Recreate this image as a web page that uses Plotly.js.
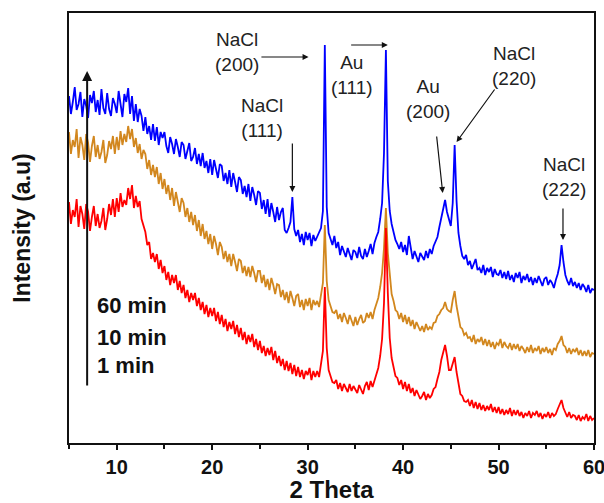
<!DOCTYPE html>
<html>
<head>
<meta charset="utf-8">
<script src="https://cdn.plot.ly/plotly-3.0.1.min.js"></script>
<style>html,body{margin:0;padding:0;background:#fff;}#chart{width:604px;height:503px;}</style>
</head>
<body>
<div id="chart"></div>
<script>
// 2-theta sampling: start 5, step 0.2 (up to 60)
const thetaStart = 5;
const thetaStep = 0.2;

// 60 min (blue), intensity in arbitrary units
const blue60 = [
347,329,341,356,333, 339,351,326,344,337, 325,348,340,352,331, 343,328,354,335,329,
350,334,327,345,339, 330,352,338,326,349, 341,355,329,347,322, 339,321,334,327,312,
326,309,317,303,319, 302,316,298,311,305, 311,297,290,306,299, 289,304,296,286,301,
298,284,293,300,282, 286,295,279,289,277, 290,275,282,270,284, 268,283,274,265,279,
277,262,270,259,273, 256,270,261,251,266, 263,249,257,246,259, 242,256,248,238,252,
250,234,243,229,244, 226,240,231,221,236, 223,231,235,213,210, 215,221,246,214,207,
213,201,209,198,211, 203,210,197,208,202, 206,210,215,232,398, 236,210,204,198,207,
195,201,188,197,192, 186,195,190,183,193, 191,185,196,187,184, 194,186,192,199,189,
200,206,211,224,240, 290,393,262,232,219, 212,203,199,194,201, 191,198,188,207,193,
184,192,186,181,190, 187,183,192,185,194, 189,197,201,206,216, 226,235,243,231,223,
217,240,298,242,210, 197,187,184,188,178, 182,174,179,184,173, 175,170,178,168,175,
171,176,166,174,169, 168,173,165,171,164, 172,163,168,161,170, 165,171,160,167,163,
169,161,166,158,165, 160,167,162,157,164, 166,158,163,160,155, 163,169,178,198,181,
168,162,158,165,157, 161,155,160,153,159, 156,151,158,150,154, 153
];

// 10 min (orange)
const orange10 = [
311,289,303,296,314, 285,306,298,283,309, 300,281,297,307,286, 298,284,291,303,280,
288,302,294,307,289, 306,293,312,298,309, 301,317,304,314,296, 305,290,299,284,293,
289,274,283,268,278, 266,276,259,270,254, 264,249,258,243,255, 237,251,242,231,245,
240,226,235,221,231, 218,228,212,223,207, 219,204,212,199,209, 194,207,199,188,201,
196,184,192,181,189, 177,189,181,172,184, 182,170,177,167,176, 166,177,170,161,172,
172,160,168,156,164, 153,165,158,149,159, 158,146,153,143,151, 140,152,145,137,147,
149,136,143,133,144, 137,145,133,143,138, 142,136,147,160,218, 162,143,137,131,130,
133,124,129,121,130, 125,119,128,122,117, 126,118,124,128,120, 122,130,125,131,124,
133,139,145,156,170, 195,235,190,165,149, 142,133,131,124,130, 121,128,119,126,117,
123,114,121,116,112, 117,111,119,113,116, 114,120,121,127,129, 133,135,141,134,132,
131,143,152,137,125, 116,114,108,110,105, 106,101,108,99,104, 101,106,98,104,97,
103,96,101,94,100, 98,104,95,101,97, 95,100,93,99,94, 99,92,97,94,90,
96,91,98,90,95, 92,97,89,95,91, 96,90,94,88,95, 93,99,102,107,98,
96,90,95,89,94, 91,95,88,93,87, 92,87,93,86,90, 89
];

// 1 min (red)
const red1 = [
241,219,233,226,244, 216,237,229,214,239, 231,212,226,237,217, 229,215,222,235,213,
224,239,228,244,226, 245,231,250,236,243, 238,255,244,258,235, 247,236,242,224,216,
211,198,201,184,190, 181,189,174,183,170, 177,163,171,158,168, 160,168,153,162,150,
158,145,153,141,150, 143,150,137,145,133, 141,129,138,126,135, 127,135,122,131,119,
128,116,124,112,121, 114,122,109,118,106, 115,103,111,99,108, 101,109,96,104,93,
102,90,97,87,95, 88,96,83,92,80, 87,77,84,73,82, 72,80,69,78,67,
76,66,73,64,72, 68,75,63,72,66, 72,66,77,92,156, 95,73,67,61,60,
63,54,60,52,59, 55,51,59,52,57, 54,50,58,53,49, 57,61,53,62,56,
63,69,75,87,104, 140,215,150,105,85, 75,67,65,58,63, 54,61,52,59,50,
55,47,53,49,44, 47,51,43,49,45, 48,54,56,64,71, 83,91,98,87,73,
73,80,86,71,59, 49,47,42,41,43, 37,43,35,41,34, 40,33,38,32,37,
33,39,31,36,30, 36,29,34,28,33, 29,35,27,33,28, 33,27,31,25,30,
27,32,25,30,28, 32,26,30,24,29, 26,31,25,30,27, 29,34,39,43,35,
30,26,31,25,28, 27,23,28,22,26, 24,29,22,27,23, 25
];

const seriesNames = ['10 min', '1 min', '60 min'];
const xTicks = [10, 20, 30, 40, 50, 60];
const peakLabels = ['NaCl<br>(200)', 'Au<br>(111)', 'NaCl<br>(111)', 'Au<br>(200)', 'NaCl<br>(220)', 'NaCl<br>(222)'];
const timeLabels = ['60 min', '10 min', '1 min'];

function trace(y, color, name) {
  return {type: 'scatter', mode: 'lines', x0: thetaStart, dx: thetaStep, y: y, name: name,
          line: {color: color, width: 1.8}, hoverinfo: 'skip'};
}

const data = [
  trace(orange10, '#D2871E', seriesNames[0]),
  trace(red1, '#FF0000', seriesNames[1]),
  trace(blue60, '#0000FF', seriesNames[2])
];

const txtFont = {family: 'Liberation Sans, Arial, sans-serif', size: 19, color: '#222'};
const boldFont = {family: 'Liberation Sans, Arial, sans-serif', size: 22, color: '#111', weight: 700};

function label(text, x, y) {
  return {text: text, x: x, y: y, xref: 'x', yref: 'y', showarrow: false, font: txtFont, align: 'center'};
}
function arrow(xh, yh, xt, yt, w) {
  return {text: '', x: xh, y: yh, ax: xt, ay: yt, xref: 'x', yref: 'y', axref: 'x', ayref: 'y',
          showarrow: true, arrowhead: 2, arrowsize: 1, arrowwidth: w || 1.2, arrowcolor: '#111'};
}

const annotations = [
  label(peakLabels[0], 22.6, 391),
  label(peakLabels[1], 34.6, 368),
  label(peakLabels[2], 25.25, 325),
  label(peakLabels[3], 42.6, 344),
  label(peakLabels[4], 51.6, 377),
  label(peakLabels[5], 56.85, 266),
  arrow(30.1, 386, 25.0, 386),
  arrow(38.4, 398, 34.4, 398),
  arrow(28.4, 251, 28.4, 301),
  arrow(44.15, 250, 43.5, 308),
  arrow(45.6, 301, 49.7, 355),
  arrow(56.75, 203, 56.75, 236),
  arrow(6.9, 372, 6.9, 56, 2),
  {text: timeLabels[0], x: 7.7, y: 138, xref: 'x', yref: 'y', xanchor: 'left', showarrow: false, font: boldFont},
  {text: timeLabels[1], x: 7.7, y: 106, xref: 'x', yref: 'y', xanchor: 'left', showarrow: false, font: boldFont},
  {text: timeLabels[2], x: 7.7, y: 78, xref: 'x', yref: 'y', xanchor: 'left', showarrow: false, font: boldFont}
];

const layout = {
  width: 604, height: 503,
  margin: {l: 69, r: 10, t: 13, b: 60},
  paper_bgcolor: '#fff', plot_bgcolor: '#fff',
  showlegend: false,
  xaxis: {
    range: [5, 60], tickvals: xTicks, ticks: 'outside', ticklen: 5, tickwidth: 2, tickcolor: '#111',
    ticklabeloverflow: 'allow',
    minor: {dtick: 5, tick0: 5, ticks: 'outside', ticklen: 4, tickwidth: 2, tickcolor: '#111'},
    showline: true, mirror: true, linewidth: 2, linecolor: '#111', showgrid: false, zeroline: false,
    tickfont: {family: 'Liberation Sans, Arial, sans-serif', size: 20, color: '#111', weight: 700},
    title: {text: '2 Theta', standoff: 8, font: {family: 'Liberation Sans, Arial, sans-serif', size: 24, color: '#111', weight: 700}}
  },
  yaxis: {
    range: [0, 430], showticklabels: false, ticks: '', showgrid: false, zeroline: false,
    showline: true, mirror: true, linewidth: 2, linecolor: '#111',
    title: {text: 'Intensity (a.u)', standoff: 30, font: {family: 'Liberation Sans, Arial, sans-serif', size: 23, color: '#111', weight: 700}}
  },
  annotations: annotations
};

Plotly.newPlot('chart', data, layout, {displayModeBar: false, staticPlot: true});
</script>
</body>
</html>
